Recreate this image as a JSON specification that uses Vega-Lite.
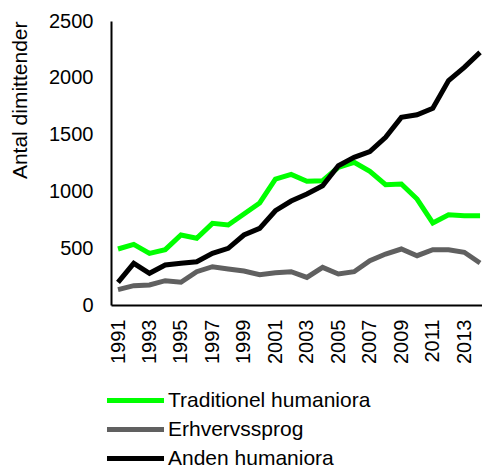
{
  "$schema": "https://vega.github.io/schema/vega-lite/v6.json",
  "width": 371,
  "height": 284,
  "autosize": {"type": "none"},
  "padding": {"left": 111, "top": 21, "right": 0, "bottom": 160},
  "background": "white",
  "config": {
    "view": {"stroke": null},
    "font": "Liberation Sans"
  },
  "data": {
    "values": [
      {"year": 1991, "series": "Traditionel humaniora", "value": 493},
      {"year": 1992, "series": "Traditionel humaniora", "value": 534},
      {"year": 1993, "series": "Traditionel humaniora", "value": 455},
      {"year": 1994, "series": "Traditionel humaniora", "value": 487},
      {"year": 1995, "series": "Traditionel humaniora", "value": 616},
      {"year": 1996, "series": "Traditionel humaniora", "value": 587},
      {"year": 1997, "series": "Traditionel humaniora", "value": 719},
      {"year": 1998, "series": "Traditionel humaniora", "value": 704},
      {"year": 1999, "series": "Traditionel humaniora", "value": 801},
      {"year": 2000, "series": "Traditionel humaniora", "value": 898},
      {"year": 2001, "series": "Traditionel humaniora", "value": 1109},
      {"year": 2002, "series": "Traditionel humaniora", "value": 1150},
      {"year": 2003, "series": "Traditionel humaniora", "value": 1089},
      {"year": 2004, "series": "Traditionel humaniora", "value": 1094},
      {"year": 2005, "series": "Traditionel humaniora", "value": 1212},
      {"year": 2006, "series": "Traditionel humaniora", "value": 1256},
      {"year": 2007, "series": "Traditionel humaniora", "value": 1177},
      {"year": 2008, "series": "Traditionel humaniora", "value": 1059},
      {"year": 2009, "series": "Traditionel humaniora", "value": 1065},
      {"year": 2010, "series": "Traditionel humaniora", "value": 933},
      {"year": 2011, "series": "Traditionel humaniora", "value": 722},
      {"year": 2012, "series": "Traditionel humaniora", "value": 795},
      {"year": 2013, "series": "Traditionel humaniora", "value": 786},
      {"year": 2014, "series": "Traditionel humaniora", "value": 786},
      {"year": 1991, "series": "Erhvervssprog", "value": 135},
      {"year": 1992, "series": "Erhvervssprog", "value": 170},
      {"year": 1993, "series": "Erhvervssprog", "value": 176},
      {"year": 1994, "series": "Erhvervssprog", "value": 214},
      {"year": 1995, "series": "Erhvervssprog", "value": 200},
      {"year": 1996, "series": "Erhvervssprog", "value": 293},
      {"year": 1997, "series": "Erhvervssprog", "value": 337},
      {"year": 1998, "series": "Erhvervssprog", "value": 317},
      {"year": 1999, "series": "Erhvervssprog", "value": 299},
      {"year": 2000, "series": "Erhvervssprog", "value": 267},
      {"year": 2001, "series": "Erhvervssprog", "value": 284},
      {"year": 2002, "series": "Erhvervssprog", "value": 293},
      {"year": 2003, "series": "Erhvervssprog", "value": 243},
      {"year": 2004, "series": "Erhvervssprog", "value": 331},
      {"year": 2005, "series": "Erhvervssprog", "value": 273},
      {"year": 2006, "series": "Erhvervssprog", "value": 293},
      {"year": 2007, "series": "Erhvervssprog", "value": 390},
      {"year": 2008, "series": "Erhvervssprog", "value": 449},
      {"year": 2009, "series": "Erhvervssprog", "value": 493},
      {"year": 2010, "series": "Erhvervssprog", "value": 434},
      {"year": 2011, "series": "Erhvervssprog", "value": 487},
      {"year": 2012, "series": "Erhvervssprog", "value": 487},
      {"year": 2013, "series": "Erhvervssprog", "value": 464},
      {"year": 2014, "series": "Erhvervssprog", "value": 370},
      {"year": 1991, "series": "Anden humaniora", "value": 200},
      {"year": 1992, "series": "Anden humaniora", "value": 367},
      {"year": 1993, "series": "Anden humaniora", "value": 279},
      {"year": 1994, "series": "Anden humaniora", "value": 352},
      {"year": 1995, "series": "Anden humaniora", "value": 367},
      {"year": 1996, "series": "Anden humaniora", "value": 381},
      {"year": 1997, "series": "Anden humaniora", "value": 455},
      {"year": 1998, "series": "Anden humaniora", "value": 499},
      {"year": 1999, "series": "Anden humaniora", "value": 616},
      {"year": 2000, "series": "Anden humaniora", "value": 675},
      {"year": 2001, "series": "Anden humaniora", "value": 830},
      {"year": 2002, "series": "Anden humaniora", "value": 915},
      {"year": 2003, "series": "Anden humaniora", "value": 977},
      {"year": 2004, "series": "Anden humaniora", "value": 1050},
      {"year": 2005, "series": "Anden humaniora", "value": 1226},
      {"year": 2006, "series": "Anden humaniora", "value": 1300},
      {"year": 2007, "series": "Anden humaniora", "value": 1350},
      {"year": 2008, "series": "Anden humaniora", "value": 1476},
      {"year": 2009, "series": "Anden humaniora", "value": 1652},
      {"year": 2010, "series": "Anden humaniora", "value": 1675},
      {"year": 2011, "series": "Anden humaniora", "value": 1731},
      {"year": 2012, "series": "Anden humaniora", "value": 1975},
      {"year": 2013, "series": "Anden humaniora", "value": 2092},
      {"year": 2014, "series": "Anden humaniora", "value": 2224}
    ]
  },
  "mark": {"type": "line", "strokeWidth": 5, "clip": false},
  "encoding": {
    "x": {
      "field": "year",
      "type": "quantitative",
      "scale": {"domain": [1990.555, 2014.125], "nice": false, "zero": false},
      "axis": {
        "title": null,
        "values": [1991, 1993, 1995, 1997, 1999, 2001, 2003, 2005, 2007, 2009, 2011, 2013],
        "format": "d",
        "labelAngle": -90,
        "labelFontSize": 20,
        "labelColor": "black",
        "labelPadding": 14,
        "ticks": false,
        "grid": false,
        "domainColor": "black",
        "domainWidth": 2
      }
    },
    "y": {
      "field": "value",
      "type": "quantitative",
      "scale": {"domain": [0, 2500], "nice": false},
      "axis": {
        "title": "Antal dimittender",
        "titleFontSize": 21,
        "titleFontWeight": "normal",
        "titleColor": "black",
        "titleAnchor": "end",
        "titlePadding": 18,
        "values": [0, 500, 1000, 1500, 2000, 2500],
        "format": "d",
        "labelFontSize": 20,
        "labelColor": "black",
        "labelPadding": 18,
        "ticks": false,
        "grid": false,
        "domainColor": "black",
        "domainWidth": 2
      }
    },
    "color": {
      "field": "series",
      "type": "nominal",
      "sort": ["Traditionel humaniora", "Erhvervssprog", "Anden humaniora"],
      "scale": {
        "domain": ["Traditionel humaniora", "Erhvervssprog", "Anden humaniora"],
        "range": ["#00ff00", "#606060", "#000000"]
      },
      "legend": {
        "title": null,
        "orient": "none",
        "legendX": -7,
        "legendY": 365,
        "direction": "vertical",
        "symbolType": "stroke",
        "symbolSize": 3250,
        "symbolStrokeWidth": 5,
        "clipHeight": 29,
        "labelFontSize": 21,
        "labelColor": "black",
        "labelLimit": 400,
        "labelOffset": 1,
        "rowPadding": 0
      }
    }
  }
}
